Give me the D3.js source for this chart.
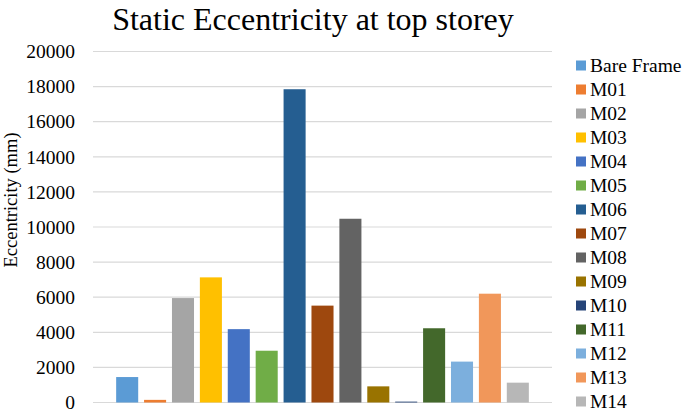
<!DOCTYPE html>
<html>
<head>
<meta charset="utf-8">
<script src="https://cdn.jsdelivr.net/npm/d3@7"></script>
<style>
  body { margin: 0; background: #fff; }
</style>
</head>
<body>
<svg id="chart" width="685" height="410"></svg>
<script>
// series names, values (mm) and Excel colours
var seriesNames = ["Bare Frame", "M01", "M02", "M03", "M04", "M05", "M06", "M07",
                   "M08", "M09", "M10", "M11", "M12", "M13", "M14"];
var eccValues = [1450, 150, 5950, 7130, 4180, 2950, 17850, 5520,
                 10470, 920, 50, 4230, 2330, 6200, 1130];
var seriesColors = ["#5B9BD5", "#ED7D31", "#A5A5A5", "#FFC000", "#4472C4", "#70AD47",
                    "#255E91", "#9E480E", "#636363", "#997300", "#264478", "#43682B",
                    "#7CAFDD", "#F1975A", "#B7B7B7"];
var yTicks = [0, 2000, 4000, 6000, 8000, 10000, 12000, 14000, 16000, 18000, 20000];

var serifFont = "Liberation Serif";

var svg = d3.select('#chart'),
    plotLeft = 93, plotRight = 552, plotTop = 51.5, plotBottom = 402.5;

var x = d3.scaleBand()
    .domain(seriesNames)
    .range([plotLeft, plotRight])
    .paddingInner(0.21)
    .paddingOuter(0.83);

var y = d3.scaleLinear().domain([0, 20000]).range([plotBottom, plotTop]);

// gridlines
svg.append("g").selectAll("line")
    .data(yTicks)
    .enter().append("line")
    .attr("x1", plotLeft).attr("x2", plotRight)
    .attr("y1", function(d) { return y(d); })
    .attr("y2", function(d) { return y(d); })
    .attr("stroke", "#d9d9d9")
    .attr("stroke-width", 1.2);

// y axis labels
var yAxis = d3.axisLeft(y).tickValues(yTicks).tickFormat(d3.format("d")).tickSize(0).tickPadding(18);
svg.append("g")
    .attr("transform", "translate(" + plotLeft + ",0)")
    .call(yAxis)
    .call(function(g) { g.select(".domain").remove(); })
    .attr("font-family", serifFont)
    .attr("font-size", 19.5)
    .selectAll("text")
    .attr("fill", "#000");

// bars
svg.append("g").selectAll("rect")
    .data(eccValues)
    .enter().append("rect")
    .attr("x", function(d, i) { return x(seriesNames[i]); })
    .attr("width", x.bandwidth())
    .attr("y", function(d) { return y(d); })
    .attr("height", function(d) { return y(0) - y(d); })
    .attr("fill", function(d, i) { return seriesColors[i]; });

// title
svg.append("text")
    .attr("x", 313).attr("y", 30)
    .attr("text-anchor", "middle")
    .attr("font-family", serifFont)
    .attr("font-size", 32)
    .text("Static Eccentricity at top storey");

// y axis title
svg.append("text")
    .attr("transform", "translate(17,200) rotate(-90)")
    .attr("text-anchor", "middle")
    .attr("font-family", serifFont)
    .attr("font-size", 18.5)
    .text("Eccentricity (mm)");

// legend
var legend = svg.append("g").selectAll("g")
    .data(seriesNames)
    .enter().append("g")
    .attr("transform", function(d, i) { return "translate(576," + (65.5 + i * 24) + ")"; });

legend.append("rect")
    .attr("x", 0).attr("y", -5)
    .attr("width", 10).attr("height", 10)
    .attr("fill", function(d, i) { return seriesColors[i]; });

legend.append("text")
    .attr("x", 14).attr("y", 0)
    .attr("dy", "0.35em")
    .attr("font-family", serifFont)
    .attr("font-size", 19.5)
    .text(function(d) { return d; });
</script>
</body>
</html>
